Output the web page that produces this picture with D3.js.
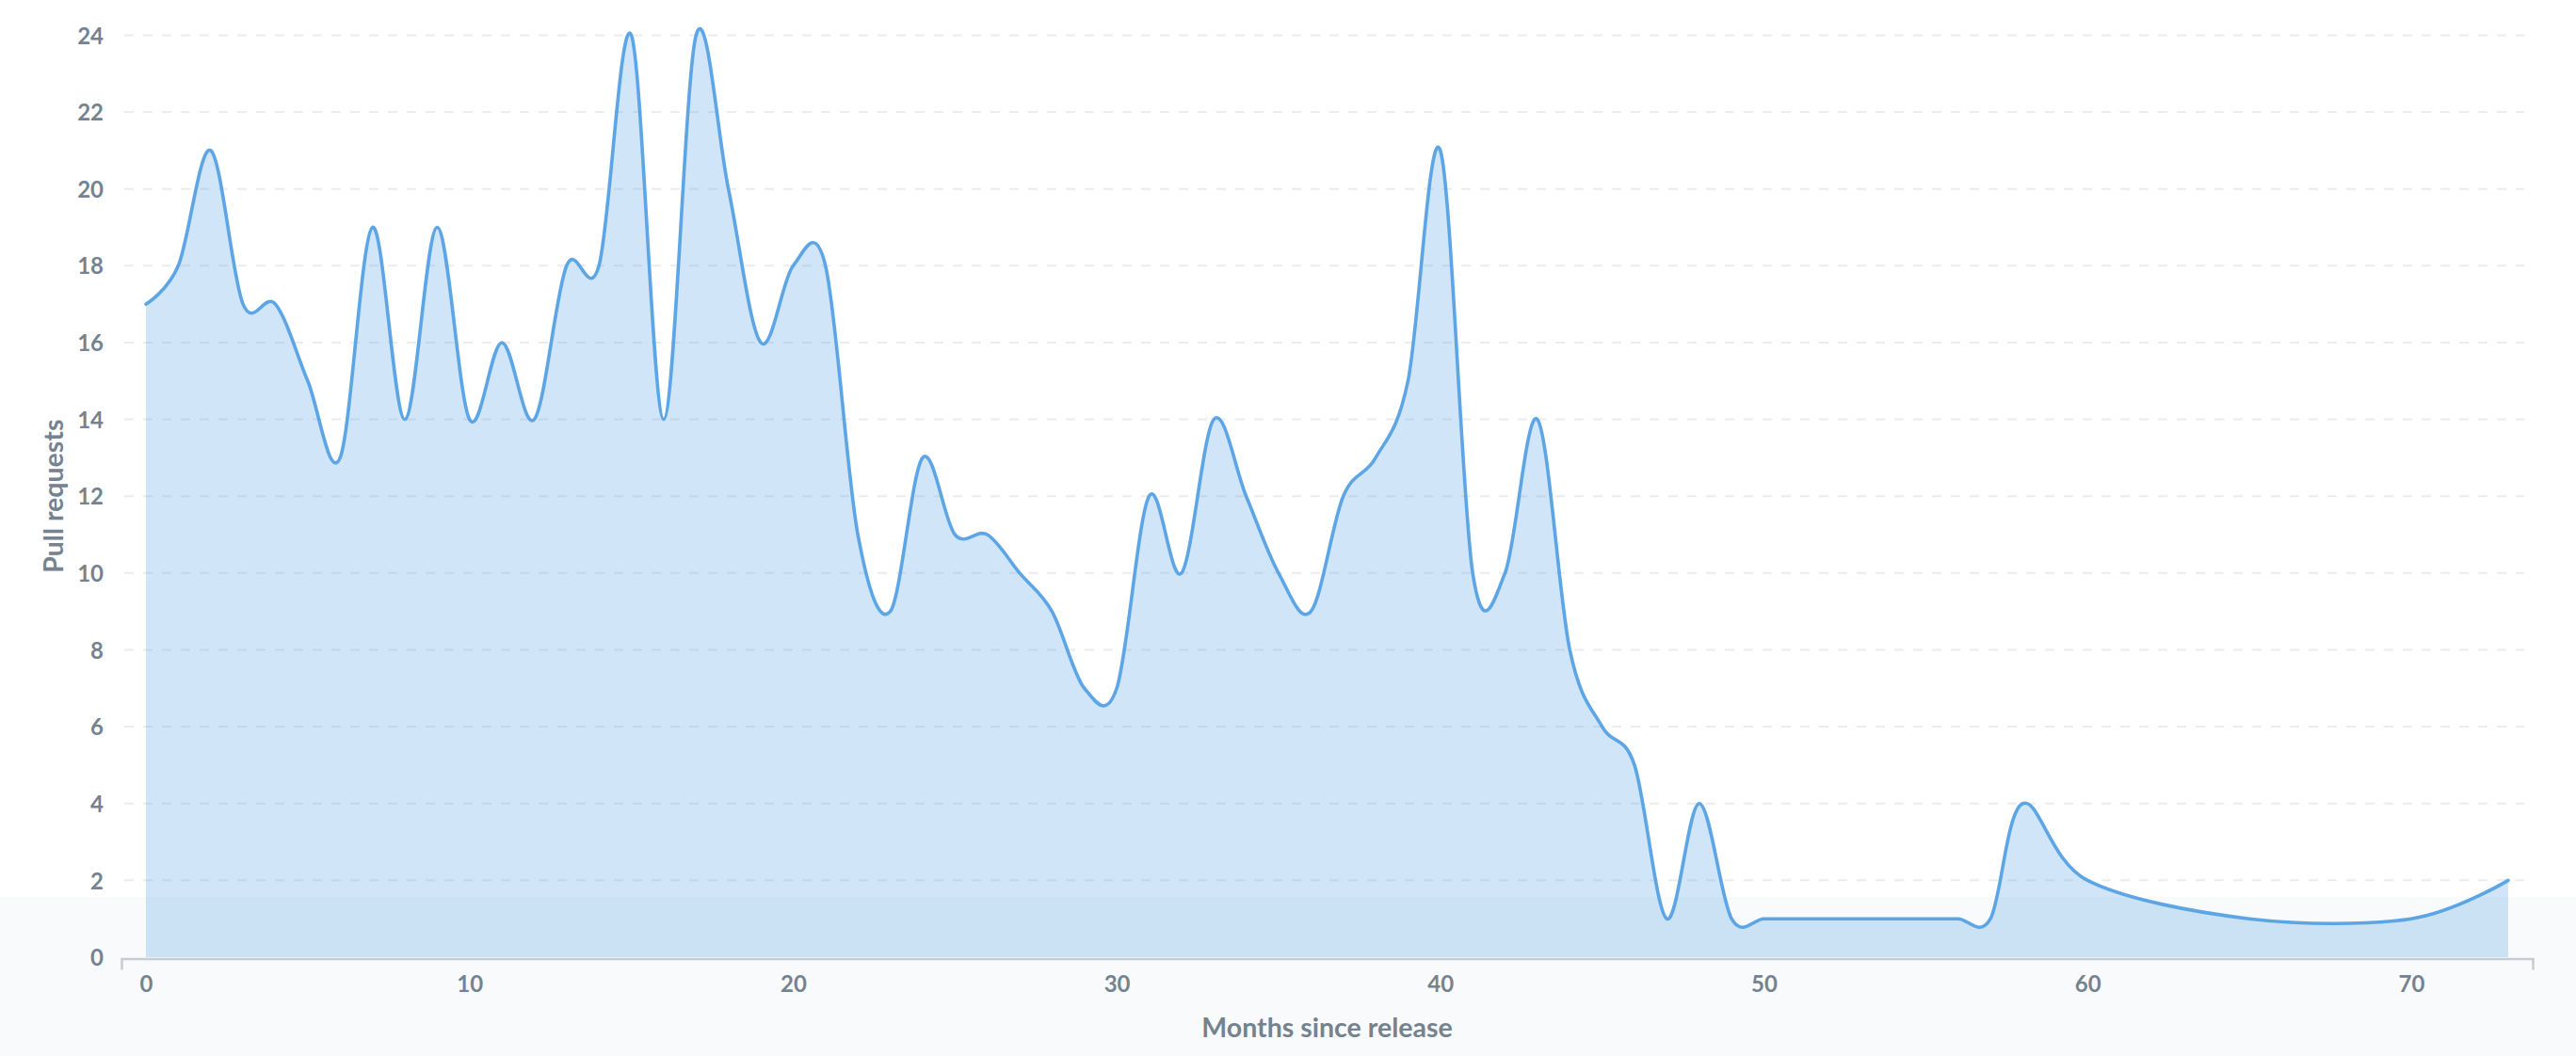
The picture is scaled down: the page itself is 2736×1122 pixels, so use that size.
<!DOCTYPE html>
<html>
<head>
<meta charset="utf-8">
<script src="https://cdn.jsdelivr.net/npm/d3@7/dist/d3.min.js"></script>
<style>
  html, body { margin: 0; padding: 0; background: #ffffff; }
  svg { display: block; }
  text { font-family: Lato, "Open Sans", sans-serif; font-weight: 700; }
</style>
</head>
<body>
<svg id="chart" width="2736" height="1122"></svg>
<script>
// ---- data ----
const months = [
  0, 1, 2, 3, 4, 5, 6, 7, 8, 9,
  10, 11, 12, 13, 14, 15, 16, 17, 18, 19,
  20, 21, 22, 23, 24, 25, 26, 27, 28, 29,
  30, 31, 32, 33, 34, 35, 36, 37, 38, 39,
  40, 41, 42, 43, 44, 45, 46, 47, 48, 49,
  50, 51, 52, 53, 54, 55, 56, 57, 58, 60,
  65, 70, 73
];
const pullRequests = [
  17, 18, 21, 17, 17, 15, 13, 19, 14, 19,
  14, 16, 14, 18, 18, 24, 14, 24, 20, 16,
  18, 18, 11, 9, 13, 11, 11, 10, 9, 7,
  7, 12, 10, 14, 12, 10, 9, 12, 13, 15,
  21, 10, 10, 14, 8, 6, 5, 1, 4, 1,
  1, 1, 1, 1, 1, 1, 1, 1, 4, 2,
  1, 1, 2
];
const yTickValues = [0, 2, 4, 6, 8, 10, 12, 14, 16, 18, 20, 22, 24];
const xTickValues = [0, 10, 20, 30, 40, 50, 60, 70];
const xTitle = "Months since release";
const yTitle = "Pull requests";

// ---- layout ----
const W = 2736, H = 1122;
const plotLeft = 155, plotRight = 2664, plotTop = 37.4, plotBottom = 1017;
const textColor = "#74838f";
const lineColor = "#509ee3";

const svg = d3.select("#chart");

const x = d3.scaleLinear().domain([0, 73]).range([plotLeft, plotRight]);
const y = d3.scaleLinear().domain([0, 24]).range([plotBottom, plotTop]);

const data = months.map((m, i) => ({ m: m, v: pullRequests[i] }));

// light footer band
svg.append("rect")
  .attr("x", 0).attr("y", 953).attr("width", W).attr("height", H - 953)
  .attr("fill", "#f9fafb");

// grid lines
const gridG = svg.append("g");
gridG.selectAll("line")
  .data(yTickValues.filter(d => d !== 0))
  .join("line")
  .attr("x1", 132).attr("x2", 2681)
  .attr("y1", d => y(d)).attr("y2", d => y(d))
  .attr("stroke", "#ececec")
  .attr("stroke-width", 2)
  .attr("stroke-dasharray", "10,10");

// area + line (uniform Catmull-Rom)
const curve = d3.curveCatmullRom.alpha(0);
const area = d3.area()
  .x(d => x(d.m)).y0(y(0)).y1(d => y(d.v))
  .curve(curve);
const line = d3.line()
  .x(d => x(d.m)).y(d => y(d.v))
  .curve(curve);

svg.append("path")
  .datum(data)
  .attr("d", area)
  .attr("fill", lineColor)
  .attr("fill-opacity", 0.27);

svg.append("path")
  .datum(data)
  .attr("d", line)
  .attr("fill", "none")
  .attr("stroke", lineColor)
  .attr("stroke-width", 3.6)
  .attr("stroke-linejoin", "round")
  .attr("stroke-linecap", "round")
  .attr("opacity", 0.92);

// x axis (domain padded beyond the data range)
const pad = 26;
const xAxisScale = d3.scaleLinear()
  .domain([x.invert(plotLeft - pad), x.invert(plotRight + pad)])
  .range([plotLeft - pad, plotRight + pad]);
const xAxis = d3.axisBottom(xAxisScale)
  .tickValues(xTickValues)
  .tickSizeInner(0)
  .tickSizeOuter(12)
  .tickPadding(0)
  .tickFormat(d3.format("d"));
const xg = svg.append("g")
  .attr("transform", `translate(0,${plotBottom + 1.5})`)
  .call(xAxis);
xg.select(".domain")
  .attr("stroke", "#c6ccd3")
  .attr("stroke-width", 2.5);
xg.selectAll(".tick text")
  .attr("y", 1045 - (plotBottom + 1.5))
  .attr("dy", "0.36em")
  .attr("fill", textColor)
  .style("font-size", "24px")
  .style("font-family", "Lato, sans-serif")
  .style("font-weight", 700);

// y axis labels
const yAxis = d3.axisLeft(y)
  .tickValues(yTickValues)
  .tickSize(0)
  .tickPadding(0)
  .tickFormat(d3.format("d"));
const yg = svg.append("g")
  .attr("transform", "translate(110,0)")
  .call(yAxis);
yg.select(".domain").remove();
yg.selectAll(".tick text")
  .attr("dy", "0.36em")
  .attr("fill", textColor)
  .style("font-size", "24px")
  .style("font-family", "Lato, sans-serif")
  .style("font-weight", 700);

// axis titles
svg.append("text")
  .attr("x", (plotLeft + plotRight) / 2)
  .attr("y", 1092)
  .attr("dy", "0.36em")
  .attr("text-anchor", "middle")
  .attr("fill", textColor)
  .style("font-size", "28.5px")
  .text(xTitle);

svg.append("text")
  .attr("transform", `translate(57,${(plotTop + plotBottom) / 2}) rotate(-90)`)
  .attr("dy", "0.36em")
  .attr("text-anchor", "middle")
  .attr("fill", textColor)
  .style("font-size", "28.5px")
  .text(yTitle);
</script>
</body>
</html>
